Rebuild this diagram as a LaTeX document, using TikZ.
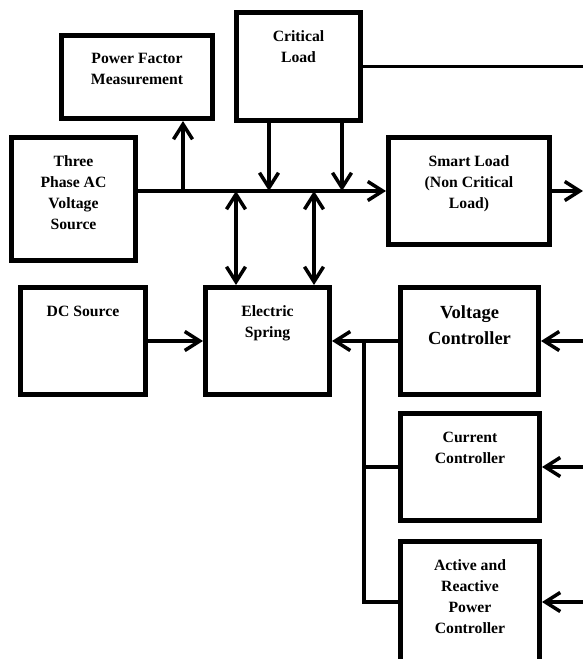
\documentclass[tikz,border=0pt]{standalone}
\usepackage{fontspec}
\setmainfont{Liberation Serif}
\usetikzlibrary{arrows.meta,positioning}

\begin{document}
\begin{tikzpicture}[x=1pt,y=-1pt,
    blk/.style={draw,line width=5pt,inner sep=0pt},
    txt/.style={inner sep=0pt,align=center,font=\fontsize{15.7}{21}\selectfont\bfseries},
    bigtxt/.style={txt,font=\fontsize{18.5}{26}\selectfont\bfseries},
    conn/.style={line width=3.5pt},
    >={Straight Barb[length=15pt,width=19pt]}]
      \useasboundingbox (0,0) rectangle (583,659);
      % boxes
      \node[blk,minimum width=124pt,minimum height=123pt] (src)   at (73.5,199)  {};
      \node[blk,minimum width=151pt,minimum height=83pt]  (pf)    at (137,77)    {};
      \node[blk,minimum width=124pt,minimum height=108pt] (crit)  at (298.5,66.5){};
      \node[blk,minimum width=161pt,minimum height=107pt] (smart) at (469,191)   {};
      \node[blk,minimum width=125pt,minimum height=107pt] (dc)    at (83,341)    {};
      \node[blk,minimum width=124pt,minimum height=107pt] (es)    at (267.5,341) {};
      \node[blk,minimum width=138pt,minimum height=107pt] (vc)    at (469.5,341) {};
      \node[blk,minimum width=139pt,minimum height=107pt] (cc)    at (470,467)   {};
      \node[blk,minimum width=139pt,minimum height=121pt] (pq)    at (470,602)   {};
      % texts
      \node[txt,below=20.5pt of src.north]   (src-t)   {Three\\Phase AC\\Voltage\\Source};
      \node[txt,below=20.5pt of pf.north]    (pf-t)    {Power Factor\\Measurement};
      \node[txt,below=20.5pt of crit.north]  (crit-t)  {Critical\\Load};
      \node[txt,below=20.5pt of smart.north] (smart-t) {Smart Load\\(Non Critical\\Load)};
      \node[txt,below=20.5pt of dc.north]    (dc-t)    {DC Source};
      \node[txt,below=20.5pt of es.north]    (es-t)    {Electric\\Spring};
      \node[bigtxt,below=20.5pt of vc.north] (vc-t)    {Voltage\\Controller};
      \node[txt,below=20.5pt of cc.north]    (cc-t)    {Current\\Controller};
      \node[txt,below=20.5pt of pq.north]    (pq-t)    {Active and\\Reactive\\Power\\Controller};
      % bus taps
      \coordinate (rim)  at (583,0);
      \coordinate (pfT)  at (183,191);
      \coordinate (crT1) at (269,191);
      \coordinate (crT2) at (342,191);
      \coordinate (esT1) at (236,191);
      \coordinate (esT2) at (314,191);
      \coordinate (jn)   at (364,341);
      % AC bus
      \draw[conn,->] (src.east |- smart.west) -- (smart.west);
      \draw[conn,->] (pfT) -- (pfT |- pf.south);
      \draw[conn,->] (crT1 |- crit.south) -- (crT1);
      \draw[conn,->] (crT2 |- crit.south) -- (crT2);
      \draw[conn,<->] (esT1) -- (esT1 |- es.north);
      \draw[conn,<->] (esT2) -- (esT2 |- es.north);
      \draw[conn] (crit.east) -- (crit.east -| rim);
      \draw[conn,->] (smart.east) -- (smart.east -| rim);
      % spring side
      \draw[conn,->] (dc.east) -- (es.west);
      \draw[conn,->] (vc.west) -- (es.east);
      \draw[conn] (jn) |- (cc.west);
      \draw[conn] (jn) |- (pq.west);
      \draw[conn,->] (vc.east -| rim) -- (vc.east);
      \draw[conn,->] (cc.east -| rim) -- (cc.east);
      \draw[conn,->] (pq.east -| rim) -- (pq.east);
    \end{tikzpicture}
\end{document}
